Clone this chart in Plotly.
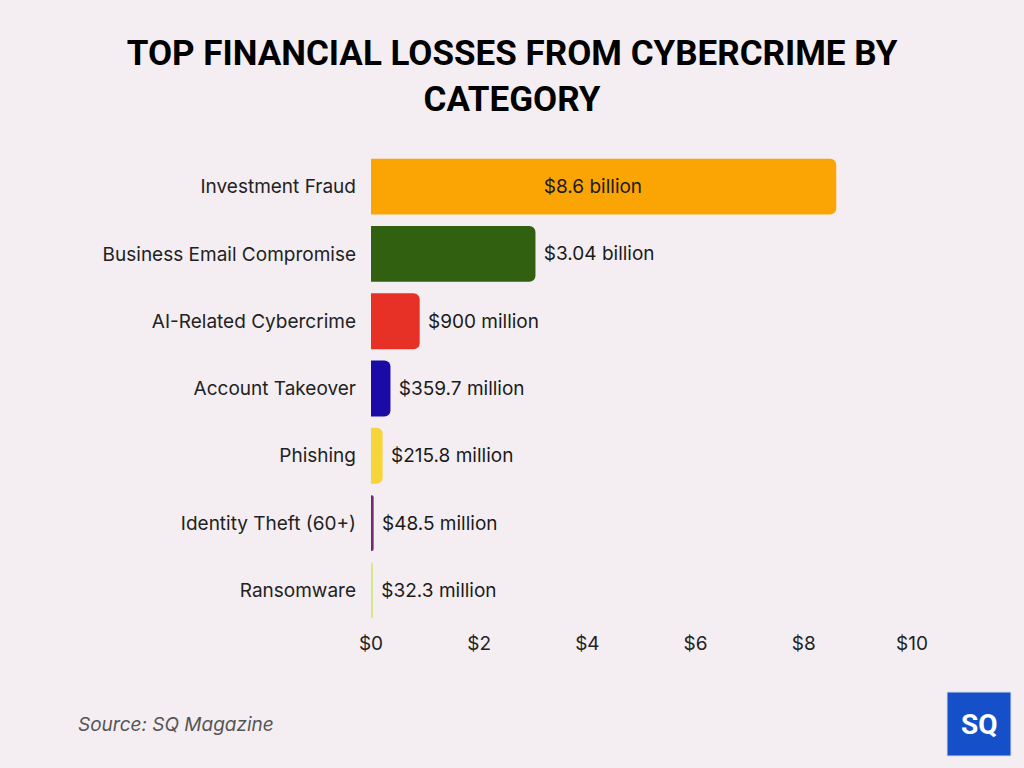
import plotly.graph_objects as go

categories = ["Investment Fraud", "Business Email Compromise", "AI-Related Cybercrime",
              "Account Takeover", "Phishing", "Identity Theft (60+)", "Ransomware"]
values = [8.6, 3.04, 0.9, 0.3597, 0.2158, 0.0485, 0.0323]
labels = ["$8.6 billion", "$3.04 billion", "$900 million", "$359.7 million",
          "$215.8 million", "$48.5 million", "$32.3 million"]
colors = ["#FBA504", "#316110", "#E83126", "#1B0BA6", "#F6D53A", "#6E2C6F", "#D6E98C"]
tick_vals = [0, 2, 4, 6, 8, 10]
tick_text = ["$0", "$2", "$4", "$6", "$8", "$10"]

positions = ["inside"] + ["outside"] * (len(values) - 1)
templates = ["%{text}    "] + [" %{text}"] * (len(values) - 1)

fig = go.Figure(go.Bar(
    y=categories, x=values, orientation="h",
    marker=dict(color=colors, line=dict(width=0)),
    text=labels,
    texttemplate=templates,
    textposition=positions,
    insidetextanchor="middle",
    textfont=dict(family="Inter", size=19, color="#1a1a1a"),
    cliponaxis=False,
    hoverinfo="skip",
))

fig.update_layout(
    width=1024, height=768,
    margin=dict(l=371, r=112, t=153, b=144),
    paper_bgcolor="#F4EEF2", plot_bgcolor="rgba(0,0,0,0)",
    barcornerradius=6,
    bargap=0.17,
    showlegend=False,
    title=dict(text="<b>TOP FINANCIAL LOSSES FROM CYBERCRIME BY<br>CATEGORY</b>",
               x=0.5, xanchor="center", y=0.915, yanchor="middle",
               font=dict(family="Roboto", size=35, color="#000000", weight=900)),
    xaxis=dict(range=[0, 10], tickvals=tick_vals, ticktext=tick_text,
               showgrid=False, zeroline=False, showline=False,
               ticklabelstandoff=6,
               tickfont=dict(family="Inter", size=19, color="#222222")),
    yaxis=dict(categoryorder="array", categoryarray=categories[::-1],
               showgrid=False, zeroline=False, showline=False,
               ticklabelstandoff=14,
               tickfont=dict(family="Inter", size=19, color="#222222")),
    shapes=[dict(type="rect", xref="paper", yref="paper",
                 x0=1.0647, x1=1.183, y0=-0.2803, y1=-0.1444,
                 fillcolor="#1550C8", line=dict(width=1, color="#D8DCEB"))],
    annotations=[
        dict(text="SQ", xref="paper", yref="paper", x=1.1239, y=-0.2124,
             showarrow=False, xanchor="center", yanchor="middle",
             font=dict(family="Roboto", size=28, color="white", weight=700)),
        dict(text="<i>Source: SQ Magazine</i>", xref="paper", yref="paper",
             x=-0.545, y=-0.2144, xanchor="left", yanchor="middle", showarrow=False,
             font=dict(family="Inter", size=19, color="#555555")),
    ],
)

fig.write_html("out.html", config={"displayModeBar": False},
               post_script="document.body.style.margin='0';document.body.style.background='#F4EEF2';")
